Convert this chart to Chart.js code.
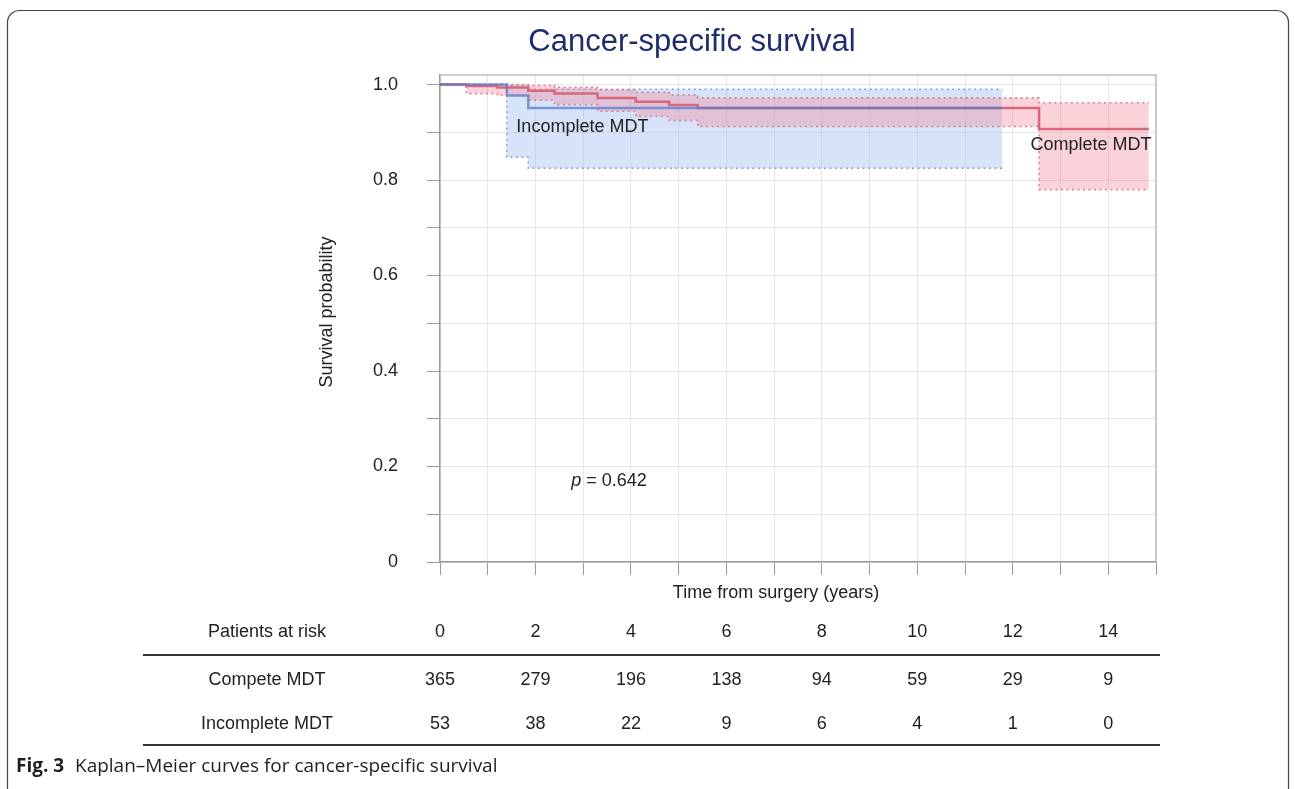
<!DOCTYPE html>
<html>
<head>
<meta charset="utf-8">
<title>Cancer-specific survival</title>
<script src="https://cdn.jsdelivr.net/npm/chart.js@4.4.1/dist/chart.umd.min.js"></script>
<style>
  html, body { margin: 0; padding: 0; background: #fff; }
  canvas { display: block; }
</style>
</head>
<body>
<canvas id="km-chart" width="1295" height="789"></canvas>
<script>
// Kaplan-Meier estimates (time in years, survival probability)

// Complete MDT
const completeTimes = [0, 0.55, 1.2, 1.85, 2.4, 3.3, 4.1, 4.8, 5.4, 12.55, 14.85];
const completeSurv  = [1, 0.997, 0.994, 0.987, 0.981, 0.972, 0.964, 0.957, 0.951, 0.907, 0.907];
const completeUpper = [1, 1, 1, 0.998, 0.994, 0.989, 0.984, 0.978, 0.972, 0.962, 0.962];
const completeLower = [1, 0.981, 0.977, 0.967, 0.958, 0.944, 0.933, 0.925, 0.912, 0.78, 0.78];

// Incomplete MDT
const incompleteTimes = [0, 1.4, 1.85, 11.78];
const incompleteSurv  = [1, 0.977, 0.951, 0.951];
const incompleteUpper = [1, 0.998, 0.99, 0.99];
const incompleteLower = [1, 0.848, 0.825, 0.825];

// Patients at risk table
const riskTimes = [0, 2, 4, 6, 8, 10, 12, 14];
const riskComplete = [365, 279, 196, 138, 94, 59, 29, 9];
const riskIncomplete = [53, 38, 22, 9, 6, 4, 1, 0];

const FONT = "'Liberation Sans', Arial, sans-serif";

// turn a times array + values array into {x, y} points
function toPoints(times, values) {
    return times.map((t, i) => ({ x: t, y: values[i] }));
}

function curve(times, values, color) {
    return {
        data: toPoints(times, values),
        borderColor: color,
        borderWidth: 2.5,
        stepped: true,
        pointRadius: 0,
        fill: false,
    };
}

function band(times, values, dotColor, fill, fillColor) {
    return {
        data: toPoints(times, values),
        borderColor: dotColor,
        borderWidth: 1.6,
        borderDash: [2, 3.5],
        stepped: true,
        pointRadius: 0,
        fill: fill,
        backgroundColor: fillColor,
    };
}

// Everything that is not a curve or an axis: frame, titles, labels, at-risk table, caption
const decorations = {
    id: "decorations",
    beforeDraw(chart) {
        const ctx = chart.ctx;
        ctx.save();
        ctx.fillStyle = "#fff";
        ctx.fillRect(0, 0, chart.width, chart.height);
        ctx.strokeStyle = "#444";
        ctx.lineWidth = 1.2;
        ctx.beginPath();
        ctx.roundRect(7.5, 10.5, 1281, 800, 12);
        ctx.stroke();
        ctx.restore();
    },
    afterDraw(chart) {
        const ctx = chart.ctx;
        const area = chart.chartArea;
        const xs = chart.scales.x;
        const ys = chart.scales.y;
        ctx.save();

        // top and right side of the plot box
        ctx.strokeStyle = "#bdbdbd";
        ctx.lineWidth = 1.5;
        ctx.beginPath();
        ctx.moveTo(area.left, area.top);
        ctx.lineTo(area.right, area.top);
        ctx.lineTo(area.right, area.bottom);
        ctx.stroke();

        ctx.textBaseline = "middle";

        // title
        ctx.fillStyle = "#1f2d6b";
        ctx.font = "31px " + FONT;
        ctx.textAlign = "center";
        ctx.fillText("Cancer-specific survival", 692, 42);

        ctx.fillStyle = "#222";
        ctx.font = "18px " + FONT;

        // axis titles
        ctx.fillText("Time from surgery (years)", 776, 593);
        ctx.save();
        ctx.translate(327, 312);
        ctx.rotate(-Math.PI / 2);
        ctx.fillText("Survival probability", 0, 0);
        ctx.restore();

        // curve labels
        ctx.textAlign = "left";
        ctx.fillText("Incomplete MDT", xs.getPixelForValue(1.6), ys.getPixelForValue(0.912));
        ctx.fillText("Complete MDT", xs.getPixelForValue(12.37), ys.getPixelForValue(0.874));

        // p value, italic p
        const px = xs.getPixelForValue(2.75);
        const py = ys.getPixelForValue(0.17);
        ctx.font = "italic 18px " + FONT;
        ctx.fillText("p", px, py);
        const pw = ctx.measureText("p").width;
        ctx.font = "18px " + FONT;
        ctx.fillText(" = 0.642", px + pw, py);

        // patients at risk table
        ctx.textAlign = "center";
        ctx.fillText("Patients at risk", 267, 632);
        ctx.fillText("Compete MDT", 267, 680);
        ctx.fillText("Incomplete MDT", 267, 724);
        riskTimes.forEach((t, i) => {
            const x = xs.getPixelForValue(t);
            ctx.fillText(String(t), x, 632);
            ctx.fillText(String(riskComplete[i]), x, 680);
            ctx.fillText(String(riskIncomplete[i]), x, 724);
        });
        ctx.strokeStyle = "#333";
        ctx.lineWidth = 2;
        ctx.beginPath();
        ctx.moveTo(143, 655);
        ctx.lineTo(1160, 655);
        ctx.moveTo(143, 745);
        ctx.lineTo(1160, 745);
        ctx.stroke();

        // caption
        ctx.textAlign = "left";
        ctx.fillStyle = "#231f20";
        ctx.font = "bold 19px 'Open Sans', sans-serif";
        ctx.fillText("Fig. 3", 16, 767);
        ctx.font = "19px 'Open Sans', sans-serif";
        ctx.fillText("Kaplan\u2013Meier curves for cancer-specific survival", 75, 767);

        ctx.restore();
    },
};

const ctx = document.getElementById("km-chart").getContext("2d");
new Chart(ctx, {
    type: "line",
    data: {
        datasets: [
            curve(incompleteTimes, incompleteSurv, "rgba(91, 121, 201, 0.75)"),
            curve(completeTimes, completeSurv, "#d9677b"),
            band(completeTimes, completeUpper, "rgba(205, 120, 140, 0.9)", "+1", "rgba(238, 140, 155, 0.38)"),
            band(completeTimes, completeLower, "rgba(205, 120, 140, 0.9)", false, "transparent"),
            band(incompleteTimes, incompleteUpper, "rgba(130, 145, 205, 0.9)", "+1", "rgba(160, 188, 238, 0.42)"),
            band(incompleteTimes, incompleteLower, "rgba(130, 145, 205, 0.9)", false, "transparent"),
        ],
    },
    options: {
        responsive: false,
        animation: false,
        devicePixelRatio: 1,
        layout: {
            padding: { left: 300, top: 75, right: 139, bottom: 197 },
        },
        plugins: {
            legend: { display: false },
            tooltip: { enabled: false },
        },
        scales: {
            x: {
                type: "linear",
                min: 0,
                max: 15,
                ticks: { stepSize: 1, display: false },
                grid: { color: "#e6e6e6", tickColor: "#9a9a9a", tickLength: 13 },
                border: { color: "#9a9a9a", width: 1.5 },
                afterFit(scale) {
                    scale.height = 30;
                },
            },
            y: {
                min: 0,
                max: 1.02,
                ticks: {
                    stepSize: 0.1,
                    includeBounds: false,
                    padding: 29,
                    color: "#222",
                    font: { family: FONT, size: 18 },
                    callback: (v) => {
                        const tenths = Math.round(v * 10);
                        if (tenths % 2 !== 0) return "";
                        return tenths === 0 ? "0" : (tenths / 10).toFixed(1);
                    },
                },
                grid: { color: "#e6e6e6", tickColor: "#9a9a9a", tickLength: 13 },
                border: { color: "#9a9a9a", width: 1.5 },
                afterFit(scale) {
                    scale.width = 140;
                },
            },
        },
    },
    plugins: [decorations],
});
</script>
</body>
</html>
